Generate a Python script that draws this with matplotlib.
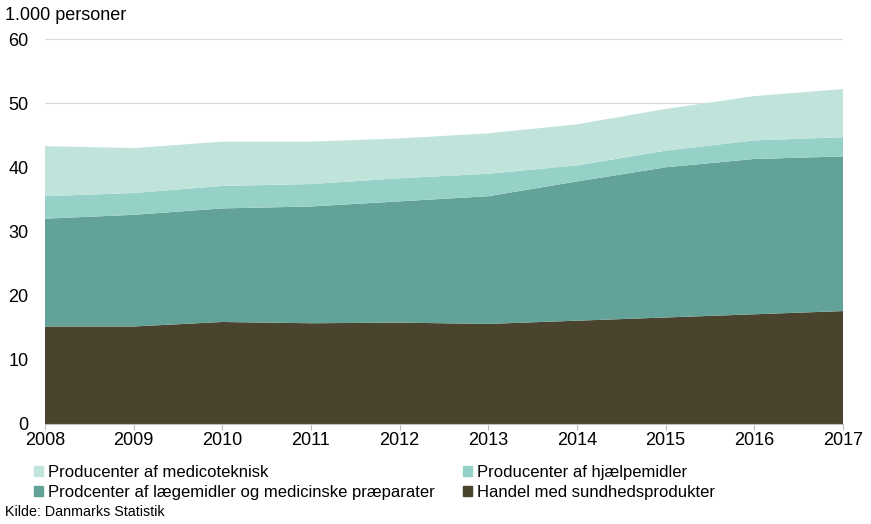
import matplotlib
matplotlib.use("Agg")
import matplotlib.pyplot as plt
from matplotlib.patches import Patch
import numpy as np

plt.rcParams['font.family'] = ['Liberation Sans', 'DejaVu Sans']

years = [2008, 2009, 2010, 2011, 2012, 2013, 2014, 2015, 2016, 2017]
handel = [15.2, 15.2, 15.9, 15.7, 15.8, 15.6, 16.1, 16.6, 17.1, 17.6]
laegemidler = [16.8, 17.4, 17.7, 18.2, 18.9, 19.9, 21.7, 23.4, 24.2, 24.1]
hjaelpemidler = [3.5, 3.4, 3.5, 3.5, 3.6, 3.5, 2.5, 2.6, 2.9, 3.0]
medicoteknisk = [7.8, 7.0, 6.9, 6.6, 6.2, 6.3, 6.4, 6.5, 6.9, 7.5]

labels = ["Handel med sundhedsprodukter",
          "Prodcenter af lægemidler og medicinske præparater",
          "Producenter af hjælpemidler",
          "Producenter af medicoteknisk"]
colors = ["#4a432d", "#62a298", "#96d1c7", "#c0e3dc"]

fig = plt.figure(figsize=(8.71, 5.24), dpi=100)
ax = fig.add_axes([45/871, 1-424/524, (843-45)/871, (424-39)/524])

ax.stackplot(years, handel, laegemidler, hjaelpemidler, medicoteknisk,
             colors=colors, linewidth=0, zorder=2)

ax.set_xlim(2008, 2017)
ax.set_ylim(0, 60)
ax.set_yticks(range(0, 61, 10))
ax.set_xticks(years)
ax.grid(axis='y', color='#d9d9d9', linewidth=0.8, zorder=0)
for s in ['top', 'right', 'left']:
    ax.spines[s].set_visible(False)
ax.spines['bottom'].set_color('#bfbfbf')
ax.spines['bottom'].set_zorder(3)
ax.tick_params(axis='y', length=0, labelsize=13, pad=12)
ax.tick_params(axis='x', length=4, color='#bfbfbf', labelsize=13, pad=2)

fig.text(5/871, 1-15/524, "1.000 personer", fontsize=13, va='center', ha='left')

h = [Patch(color=c) for c in colors]
kw = dict(frameon=False, fontsize=12, handlelength=0.55, handleheight=0.55,
          handletextpad=0.3, labelspacing=0.28, borderpad=0, borderaxespad=0)
leg1 = fig.legend([h[3], h[1]], [labels[3], labels[1]], loc='upper left',
                  bbox_to_anchor=(34/871, 1-465/524), **kw)
leg2 = fig.legend([h[2], h[0]], [labels[2], labels[0]], loc='upper left',
                  bbox_to_anchor=(463/871, 1-465/524), **kw)

fig.text(5/871, 1-512/524, "Kilde: Danmarks Statistik", fontsize=10.3, va='center', ha='left')

fig.savefig("out.png", dpi=100)
